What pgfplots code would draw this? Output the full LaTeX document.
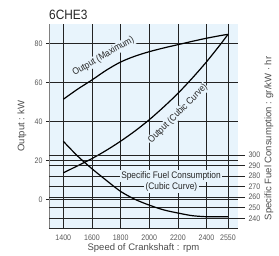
\documentclass[border=0pt]{standalone}
\usepackage{pgfplots}
\pgfplotsset{compat=1.18}
\usepackage{fontspec}
\setmainfont{Liberation Sans}
\newfontfamily\condfont[FakeStretch=0.88]{Liberation Sans}
\definecolor{bgblue}{RGB}{232,244,252}
\definecolor{gridc}{RGB}{35,35,35}
\begin{document}
\begin{tikzpicture}
\useasboundingbox (0,0) rectangle (279pt,255pt);
\begin{axis}[
  at={(49pt,27pt)}, anchor=south west,
  scale only axis, width=189pt, height=204pt,
  xmin=1300, xmax=2620, ymin=-14.7, ymax=89.9,
  axis background/.style={fill=bgblue},
  axis x line*=bottom, axis y line*=left,
  x axis line style={-, draw=black!85, line width=0.7pt},
  y axis line style={-, draw=black!50, line width=0.7pt},
  xtick={1400,1600,1800,2000,2200,2400,2550},
  xticklabels={1400,1600,1800,2000,2200,2400,2550},
  ytick={0,20,40,60,80},
  xmajorgrids, ymajorgrids,
  grid style={gridc, line width=0.7pt},
  xtick style={draw=none},
  ytick style={gridc, line width=0.7pt},
  tick align=outside, major tick length=3pt,
  ticklabel style={font=\condfont\fontsize{8}{9}\selectfont, text=black!65},
  /pgf/number format/assume math mode=true,
  /pgf/number format/1000 sep={},
  xlabel={Speed of Crankshaft : rpm},
  ylabel={Output : kW},
  label style={font=\fontsize{9.5}{10}\selectfont, text=black!70},
  x label style={at={(axis description cs:0.5,-0.098)}, anchor=center},
  y label style={at={(axis description cs:-0.143,0.5)}, anchor=center},
]
\addplot[black, line width=1.2pt, smooth] coordinates {
 (1400,51.3) (1500,56.5) (1600,61.2) (1700,66.2) (1800,70.4) (1900,73.4)
 (2000,75.7) (2100,77.6) (2200,79.3) (2300,81.0) (2400,82.6) (2500,84.0) (2550,84.6)};
\addplot[black, line width=1.2pt, smooth] coordinates {
 (1400,13.6) (1500,17.2) (1600,20.9) (1700,25.1) (1800,29.8) (1900,35.0)
 (2000,40.8) (2100,47.3) (2200,54.3) (2300,62.1) (2400,70.5) (2500,79.7) (2550,84.6)};
\node[font=\condfont\fontsize{9.5}{10}\selectfont, text=black!85, fill=bgblue, inner sep=0.8pt, rotate=30]
  at (axis cs:1680,73.3) {Output (Maximum)};
\node[font=\condfont\fontsize{9.5}{10}\selectfont, text=black!85, fill=bgblue, inner sep=0.8pt, rotate=45]
  at (axis cs:2200,43.8) {Output (Cubic Curve)};
\end{axis}
\begin{axis}[
  at={(49pt,27pt)}, anchor=south west,
  scale only axis, width=189pt, height=204pt,
  xmin=1300, xmax=2620, ymin=230.8, ymax=424.2,
  axis x line=none, axis y line*=right,
  y axis line style={draw=none},
  ytick={240,250,260,270,280,290,300},
  ymajorgrids, grid style={gridc, line width=0.6pt},
  tick align=outside, major tick length=7pt,
  ytick style={gridc, line width=0.6pt},
  yticklabel style={font=\condfont\fontsize{8}{9}\selectfont, text=black!65},
  /pgf/number format/assume math mode=true,
  ylabel={Specific Fuel Consumption : gr/kW · hr},
  y label style={at={(axis description cs:1.164,0.439)}, anchor=center, font=\fontsize{9.5}{10}\selectfont, text=black!70},
]
\addplot[black, line width=1.2pt, smooth] coordinates {
 (1400,313) (1500,299) (1600,287) (1700,276) (1800,265.5) (1900,258)
 (2000,252.5) (2100,248) (2200,245) (2300,242.5) (2400,241.5) (2500,241.5) (2550,241.5)};
\node[font=\condfont\fontsize{9.5}{10}\selectfont, text=black!85, fill=bgblue, inner sep=1.5pt]
  at (axis cs:2152,280) {Specific Fuel Consumption};
\node[font=\condfont\fontsize{9.5}{10}\selectfont, text=black!85, fill=bgblue, inner sep=1.5pt]
  at (axis cs:2155,270) {(Cubic Curve)};
\end{axis}
\node[anchor=west, inner sep=0pt, font=\condfont\fontsize{13.5}{15}\selectfont, text=black!85] at (49pt,240pt) {6CHE3};
\end{tikzpicture}
\end{document}
